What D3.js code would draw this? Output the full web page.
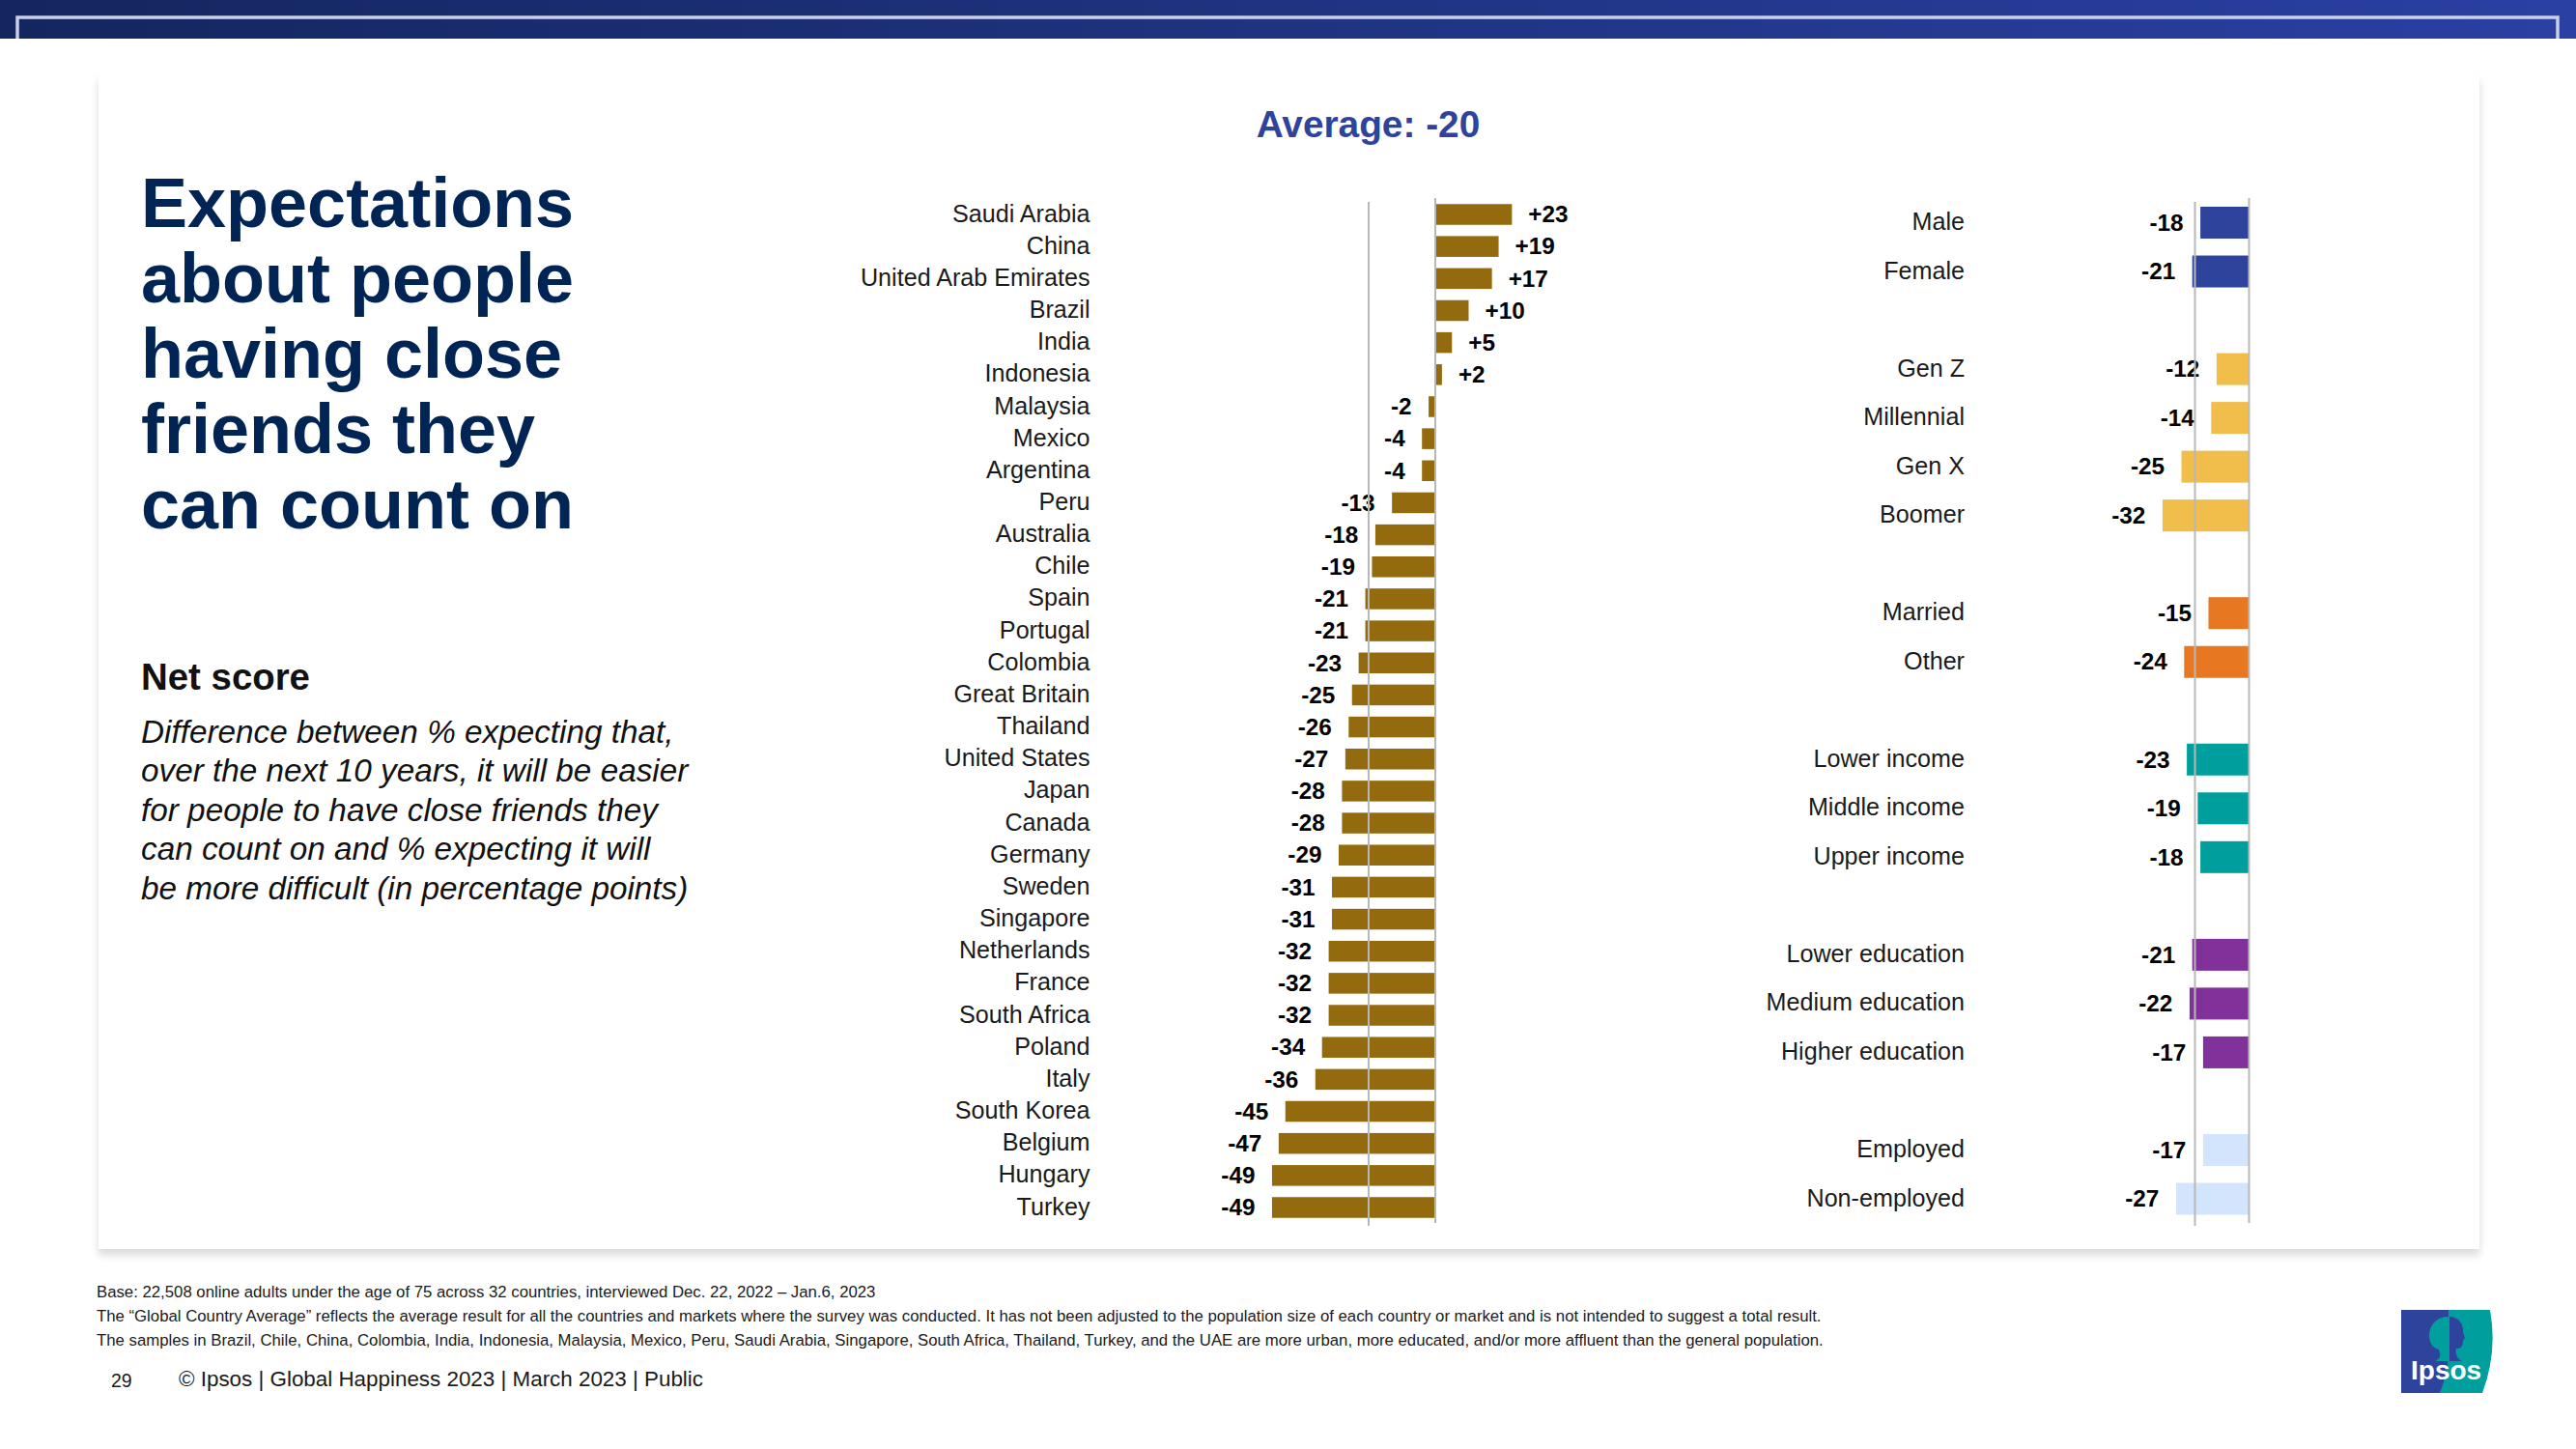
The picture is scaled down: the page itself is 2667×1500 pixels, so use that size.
<!DOCTYPE html>
<html>
<head>
<meta charset="utf-8">
<title>Expectations about people having close friends they can count on</title>
<script src="https://cdn.jsdelivr.net/npm/d3@7"></script>
<style>
  body { margin: 0; background: #fff; }
  text { font-family: "Liberation Sans", Arial, sans-serif; }
</style>
</head>
<body>
<div id="chart"></div>
<script>
// Country chart data
const countries = ["Saudi Arabia", "China", "United Arab Emirates", "Brazil", "India", "Indonesia",
    "Malaysia", "Mexico", "Argentina", "Peru", "Australia", "Chile", "Spain", "Portugal", "Colombia",
    "Great Britain", "Thailand", "United States", "Japan", "Canada", "Germany", "Sweden", "Singapore",
    "Netherlands", "France", "South Africa", "Poland", "Italy", "South Korea", "Belgium", "Hungary", "Turkey"];
const countryValues = [23, 19, 17, 10, 5, 2, -2, -4, -4, -13, -18, -19, -21, -21, -23, -25, -26, -27,
    -28, -28, -29, -31, -31, -32, -32, -32, -34, -36, -45, -47, -49, -49];
const average = -20;

// Demographic chart data, empty names are the gaps between groups
const groups = ["Male", "Female", "", "Gen Z", "Millennial", "Gen X", "Boomer", "", "Married", "Other", "",
    "Lower income", "Middle income", "Upper income", "", "Lower education", "Medium education",
    "Higher education", "", "Employed", "Non-employed"];
const groupValues = [-18, -21, null, -12, -14, -25, -32, null, -15, -24, null, -23, -19, -18, null,
    -21, -22, -17, null, -17, -27];
const groupColors = ["#2e449c", "#2e449c", null, "#f1bd4b", "#f1bd4b", "#f1bd4b", "#f1bd4b", null,
    "#e87722", "#e87722", null, "#009f9d", "#009f9d", "#009f9d", null,
    "#80319a", "#80319a", "#80319a", null, "#d3e5fd", "#d3e5fd"];

// Slide text
const titleLines = ["Expectations", "about people", "having close", "friends they", "can count on"];
const noteLines = ["Difference between % expecting that,", "over the next 10 years, it will be easier",
    "for people to have close friends they", "can count on and % expecting it will",
    "be more difficult (in percentage points)"];
const footLines = ["Base: 22,508 online adults under the age of 75 across 32 countries, interviewed Dec. 22, 2022 – Jan.6, 2023",
    "The “Global Country Average” reflects the average result for all the countries and markets where the survey was conducted. It has not been adjusted to the population size of each country or market and is not intended to suggest a total result.",
    "The samples in Brazil, Chile, China, Colombia, India, Indonesia, Malaysia, Mexico, Peru, Saudi Arabia, Singapore, South Africa, Thailand, Turkey, and the UAE are more urban, more educated, and/or more affluent than the general population."];

const width = 2667, height = 1500;
const navy = "#002554";

const svg = d3.select("#chart").append("svg")
    .attr("width", width)
    .attr("height", height)
    .style("display", "block");

const defs = svg.append("defs");

const headerGradient = defs.append("linearGradient").attr("id", "header");
headerGradient.append("stop").attr("offset", "0%").attr("stop-color", "#14265f");
headerGradient.append("stop").attr("offset", "100%").attr("stop-color", "#2a40a3");

const cardShadow = defs.append("filter").attr("id", "cardShadow")
    .attr("x", "-2%").attr("y", "-2%").attr("width", "104%").attr("height", "104%");
cardShadow.append("feDropShadow")
    .attr("dx", 0).attr("dy", 6).attr("stdDeviation", 4)
    .attr("flood-color", "#000").attr("flood-opacity", 0.15);

// Header band with its open frame line
svg.append("rect").attr("width", width).attr("height", 40).attr("fill", "url(#header)");
svg.append("path")
    .attr("d", "M18,40 V18 H2648 V40")
    .attr("fill", "none")
    .attr("stroke", "#c9cfe6")
    .attr("stroke-width", 3.5);

// Card behind the charts
svg.append("rect")
    .attr("x", 102).attr("y", 77)
    .attr("width", 2465).attr("height", 1216)
    .attr("fill", "#fff")
    .attr("filter", "url(#cardShadow)");

// Left column text
svg.append("g").selectAll("text").data(titleLines).join("text")
    .attr("x", 146)
    .attr("y", (d, i) => 235 + i * 78)
    .attr("font-size", 72)
    .attr("font-weight", "bold")
    .attr("fill", navy)
    .text(d => d);

svg.append("text")
    .attr("x", 146).attr("y", 713.5)
    .attr("font-size", 38.4)
    .attr("font-weight", "bold")
    .attr("fill", "#111")
    .text("Net score");

svg.append("g").selectAll("text").data(noteLines).join("text")
    .attr("x", 146)
    .attr("y", (d, i) => 768.5 + i * 40.6)
    .attr("font-size", 33.3)
    .attr("font-style", "italic")
    .attr("fill", "#111")
    .text(d => d);

svg.append("text")
    .attr("x", 1416.5).attr("y", 142)
    .attr("text-anchor", "middle")
    .attr("font-size", 38.8)
    .attr("font-weight", "bold")
    .attr("fill", "#2e449c")
    .text("Average: " + average);

/**
 * drawBars
 *
 * Purpose: Draws one diverging bar panel with its name axis, value labels and
 *          the grey lines at zero and at the average.
 */
function drawBars(opts) {
    const x = d3.scaleLinear().domain([average, 0]).range(opts.xRange);
    const y = d3.scalePoint().domain(d3.range(opts.names.length)).range(opts.yRange);
    const rows = opts.names.map((name, i) => ({ i, name, value: opts.values[i], color: opts.colors(i) }))
        .filter(d => d.name !== "");

    const g = svg.append("g");

    g.selectAll("rect").data(rows).join("rect")
        .attr("x", d => x(Math.min(d.value, 0)))
        .attr("y", d => y(d.i) - opts.barHeight / 2)
        .attr("width", d => Math.abs(x(d.value) - x(0)))
        .attr("height", opts.barHeight)
        .attr("fill", d => d.color);

    g.selectAll(".value").data(rows).join("text")
        .attr("class", "value")
        .attr("x", d => x(d.value) + (d.value > 0 ? 17 : -17.5))
        .attr("y", d => y(d.i))
        .attr("dy", "0.34em")
        .attr("text-anchor", d => d.value > 0 ? "start" : "end")
        .attr("font-size", 24.3)
        .attr("font-weight", "bold")
        .attr("fill", "#000")
        .text(d => d.value > 0 ? "+" + d.value : "" + d.value);

    // names through a left axis without line or ticks
    const axis = g.append("g")
        .attr("transform", "translate(" + opts.labelX + ",0)")
        .call(d3.axisLeft(y)
            .tickValues(rows.map(d => d.i))
            .tickSize(0)
            .tickPadding(0)
            .tickFormat(i => opts.names[i]));
    axis.select(".domain").remove();
    axis.selectAll("text")
        .attr("font-family", "\"Liberation Sans\", Arial, sans-serif")
        .attr("font-size", 25.15)
        .attr("fill", "#1a1a1a")
        .attr("dy", "0.28em");

    // reference lines sit over the bars and labels
    g.append("line")
        .attr("x1", x(average)).attr("x2", x(average))
        .attr("y1", 209).attr("y2", 1269)
        .attr("stroke", "#b8b8b8").attr("stroke-width", 2);
    g.append("line")
        .attr("x1", x(0)).attr("x2", x(0))
        .attr("y1", 205).attr("y2", 1266)
        .attr("stroke", "#b8b8b8").attr("stroke-width", 2);
}

drawBars({
    names: countries,
    values: countryValues,
    colors: () => "#946a0e",
    xRange: [1417, 1486],
    yRange: [222, 1250],
    barHeight: 21.5,
    labelX: 1128.5
});

drawBars({
    names: groups,
    values: groupValues,
    colors: i => groupColors[i],
    xRange: [2272.5, 2328.5],
    yRange: [230.5, 1241],
    barHeight: 33,
    labelX: 2034
});

// Footnotes
svg.append("g").selectAll("text").data(footLines).join("text")
    .attr("x", 100)
    .attr("y", (d, i) => 1343 + i * 25)
    .attr("font-size", 16.75)
    .attr("fill", "#1a1a1a")
    .text(d => d);

svg.append("text").attr("x", 115).attr("y", 1436)
    .attr("font-size", 19.5).attr("fill", "#1a1a1a").text("29");
svg.append("text").attr("x", 185).attr("y", 1435)
    .attr("font-size", 22.4).attr("fill", "#1a1a1a")
    .text("© Ipsos | Global Happiness 2023 | March 2023 | Public");

// Ipsos logo
const logo = svg.append("g");
logo.append("path")
    .attr("d", "M2486,1356 H2578 Q2586,1400 2570,1442 H2486 Z")
    .attr("fill", "#009f9d");
logo.append("path")
    .attr("d", "M2486,1356 H2535 V1405 Q2533,1425 2526,1442 H2486 Z")
    .attr("fill", "#2e449c");
logo.append("path")
    .attr("d", "M2536,1363 C2512,1362 2509,1393 2525,1397 Q2529,1406 2521,1409 L2536,1409 Z")
    .attr("fill", "#009f9d");
logo.append("path")
    .attr("d", "M2536,1363 C2546,1363 2551,1372 2550,1379 L2552,1385 L2550,1388 Q2550,1397 2543,1396 Q2541,1405 2549,1409 L2536,1409 Z")
    .attr("fill", "#2e449c");
logo.append("text")
    .attr("x", 2496).attr("y", 1428)
    .attr("font-family", "\"Open Sans\", sans-serif")
    .attr("font-size", 28)
    .attr("font-weight", 600)
    .attr("fill", "#fff")
    .text("Ipsos");
</script>
</body>
</html>
